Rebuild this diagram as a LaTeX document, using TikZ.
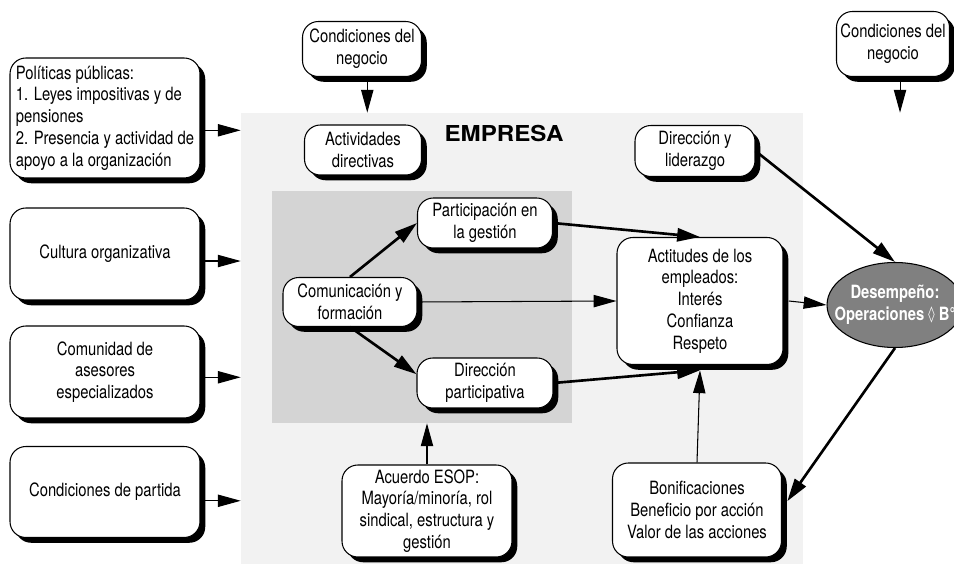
\documentclass[tikz,border=0pt]{standalone}
\usepackage{fontspec}
\setmainfont{TeX Gyre Heros}[FakeStretch=0.81]
\newfontfamily\titulo{TeX Gyre Heros}[FakeStretch=1.1]
\newfontfamily\simbolo{DejaVu Sans}[FakeStretch=0.81]
\usetikzlibrary{arrows.meta}
\usetikzlibrary{shapes.geometric}
\usetikzlibrary{shadows}
\definecolor{fondo}{gray}{0.95}
\definecolor{nucleo}{gray}{0.83}
\definecolor{elipse}{gray}{0.5}

\begin{document}
\begin{tikzpicture}[x=0.02cm,y=-0.02cm,
    font=\fontsize{10.4}{12.4}\selectfont,
    caja/.style={draw,line width=0.6pt,rounded corners=9pt,fill=white,align=center,inner sep=2pt,
        drop shadow={shadow xshift=3pt,shadow yshift=-3pt,fill=black,opacity=1}},
    fina/.style={line width=0.6pt,-{Triangle[length=13pt,width=7pt]}},
    gruesa/.style={line width=1.5pt,-{Triangle[length=13pt,width=7.5pt]}}]
    \useasboundingbox (0,0) rectangle (954,564);

    \node[fill=fondo,minimum width=11.24cm,minimum height=9.02cm,inner sep=0pt] (empresa) at (522,338.5) {};
    \node[fill=nucleo,minimum width=6cm,minimum height=4.64cm,inner sep=0pt] (nucleo) at (422,307) {};
    \node[font=\titulo\fontsize{12.5}{15}\selectfont\bfseries] (titulo) at (504,133) {EMPRESA};

    \node[caja,minimum width=3.8cm,minimum height=2.4cm,align=left] (politicas) at (105,118) {Políticas públicas:\\1. Leyes impositivas y de\\pensiones\\2. Presencia y actividad de\\apoyo a la organización};
    \node[caja,minimum width=3.8cm,minimum height=1.84cm] (cultura) at (105,254) {Cultura organizativa};
    \node[caja,minimum width=3.8cm,minimum height=1.84cm] (comunidad) at (105,372) {Comunidad de\\asesores\\especializados};
    \node[caja,minimum width=3.8cm,minimum height=1.82cm] (partida) at (105,492) {Condiciones de partida};
    \node[caja,minimum width=2.38cm,minimum height=1.1cm] (negocio) at (362,49) {Condiciones del\\negocio};
    \node[caja,minimum width=2.34cm,minimum height=1cm] (actividades) at (363,150) {Actividades\\directivas};
    \node[caja,minimum width=2.26cm,minimum height=1.3cm] (negocio2) at (893,44) {Condiciones del\\negocio};
    \node[caja,minimum width=2.4cm,minimum height=1.02cm] (liderazgo) at (695,151) {Dirección y\\liderazgo};
    \node[caja,minimum width=2.68cm,minimum height=0.98cm] (comunicacion) at (350,302) {Comunicación y\\formación};
    \node[caja,minimum width=2.7cm,minimum height=1cm] (participacion) at (485,223) {Participación en\\la gestión};
    \node[caja,minimum width=2.72cm,minimum height=1cm] (dirpart) at (485,383) {Dirección\\participativa};
    \node[caja,minimum width=3.32cm,minimum height=2.54cm] (actitudes) at (700,301) {Actitudes de los\\empleados:\\Interés\\Confianza\\Respeto};
    \node[caja,minimum width=3.38cm,minimum height=1.88cm] (bonif) at (697,510) {Bonificaciones\\Beneficio por acción\\Valor de las acciones};
    \node[caja,minimum width=3.4cm,minimum height=1.84cm] (acuerdo) at (427,511) {Acuerdo ESOP:\\Mayoría/minoría, rol\\sindical, estructura y\\gestión};
    \node[ellipse,draw,line width=0.6pt,fill=elipse,minimum width=2.72cm,minimum height=1.7cm,inner sep=0pt] (desempeno) at (895,305) {};
    \node[text=white,font=\fontsize{10.4}{12.4}\selectfont\bfseries,align=center] (desempenotexto) at (desempeno) {Desempeño:\\Operaciones \raisebox{0.6pt}{\simbolo\mdseries\fontsize{9}{10}\selectfont◊} B°};

    \draw[fina] ([yshift=-7pt]politicas.east) -- ([yshift=-7pt]politicas.east -| empresa.west);
    \draw[fina] ([yshift=-4pt]cultura.east) -- ([yshift=-4pt]cultura.east -| empresa.west);
    \draw[fina] ([yshift=-3pt]comunidad.east) -- ([yshift=-3pt]comunidad.east -| empresa.west);
    \draw[fina] ([yshift=-5pt]partida.east) -- ([yshift=-5pt]partida.east -| empresa.west);
    \draw[fina] ([xshift=3pt]negocio.south) -- ([xshift=3pt]negocio.south |- empresa.north);
    \draw[fina] ([xshift=4pt]negocio2.south) -- ([xshift=4pt]negocio2.south |- empresa.north);
    \draw[gruesa] (liderazgo.east) -- (desempeno.north);
    \draw[gruesa] (comunicacion.north) -- (participacion.west);
    \draw[gruesa] (comunicacion.south) -- ([yshift=5pt]dirpart.west);
    \draw[fina] (comunicacion.east) -- (actitudes.west);
    \draw[gruesa] (participacion.east) -- (actitudes.north);
    \draw[gruesa] (dirpart.east) -- ([yshift=-3pt]actitudes.south);
    \draw[fina] (bonif.north) -- ([yshift=-3pt]actitudes.south);
    \draw[fina] (acuerdo.north) -- (acuerdo.north |- nucleo.south);
    \draw[fina] ([xshift=3pt]actitudes.east) -- (desempeno.west);
    \draw[gruesa] (desempeno.south) -- ([xshift=3pt,yshift=5pt]bonif.east);
\end{tikzpicture}
\end{document}
